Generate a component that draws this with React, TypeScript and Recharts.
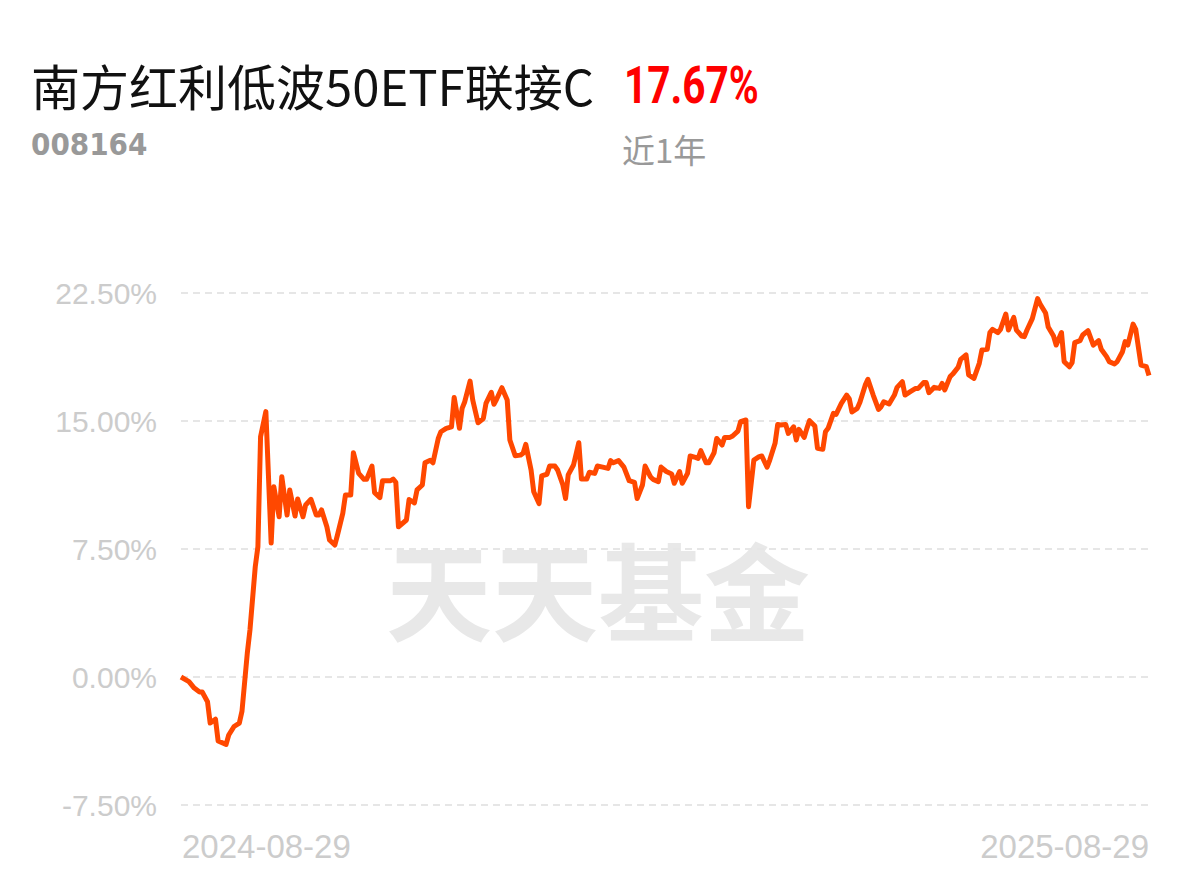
import { LineChart, Line, XAxis, YAxis, CartesianGrid } from 'recharts';

// day offset from 2024-08-29 and cumulative return (%)
const days = [
  0, 3, 5, 7, 8, 10, 11, 13, 14, 17, 18, 20, 22, 23, 25, 26, 28, 29, 30, 32,
  34, 35, 37, 38, 40, 41, 43, 44, 46, 47, 49, 51, 52, 53, 55, 56, 58, 59, 61, 62,
  64, 65, 67, 69, 70, 72, 73, 75, 76, 79, 80, 81, 82,
  85, 86, 88, 89, 91, 92, 94, 95, 97, 98, 100, 102, 103, 105, 106, 107, 109, 110,
  112, 114, 115, 117, 118, 119, 121, 123, 124, 126, 128, 129, 130, 132, 133, 135,
  136, 138, 139, 141, 142, 144, 145, 146, 148, 150, 151, 153, 154, 156, 157, 159,
  161, 162, 163, 165, 167, 169, 171, 172,
  174, 175, 177, 178, 180, 181, 183, 185, 186, 188, 189, 191, 192, 194, 195, 196,
  198, 199, 201, 202, 204, 205, 207, 208, 210, 211, 213, 214, 216, 218, 219, 221,
  222, 224, 225, 226, 228, 229, 231, 232, 233, 235, 236, 237, 239, 240, 242, 243,
  244, 246, 247, 249, 251, 252, 253, 255,
  256, 258, 259, 261, 263, 264, 265, 267, 269, 270, 272, 273, 275, 277, 278, 280,
  281, 282, 284, 286, 287, 288, 290, 291, 293, 294, 296, 297, 299, 301, 302, 304,
  305, 306, 308, 309, 311, 312, 314, 315, 317, 318, 319, 321, 323, 324, 326, 327,
  329, 330, 332, 333, 335, 336, 337, 339, 340, 342, 344, 346, 347, 349, 350, 352,
  353, 355, 356, 357, 359, 360, 362, 364, 365,
];

const returns = [
  0, -0.27, -0.65, -0.88, -0.88, -1.45, -2.7, -2.47, -3.75, -3.95, -3.4, -2.9, -2.7, -2.0, 1.4, 2.75, 6.46, 7.64, 14.08, 15.55,
  7.85, 11.15, 9.39, 11.74, 9.49, 10.96, 9.43, 10.43, 9.39, 10.08, 10.41, 9.49, 9.49, 9.79, 8.8, 8.03, 7.73, 8.32, 9.59, 10.66,
  10.66, 13.14, 11.93, 11.58, 11.58, 12.36, 10.8, 10.51, 11.5, 11.5, 11.6, 11.41, 8.8,
  9.2, 10.4, 10.2, 10.96, 11.25, 12.55, 12.7, 12.55, 13.98, 14.37, 14.57, 14.66, 16.38, 14.57, 15.74, 16.13, 17.34, 16.23,
  14.9, 15.15, 16.03, 16.68, 15.98, 16.27, 16.95, 16.23, 13.89, 12.97, 13.0, 13.11, 13.63, 12.13, 10.86, 10.16,
  11.78, 11.88, 12.36, 12.36, 12.13, 11.25, 10.46, 11.84, 12.42, 13.73, 11.6, 11.6, 12.0, 11.93, 12.36, 12.3,
  12.22, 12.68, 12.55, 12.68, 12.3, 11.5, 11.4, 10.46,
  11.25, 12.36, 11.74, 11.58, 11.45, 12.3, 12.04, 11.9, 11.35, 12.04, 11.35, 11.93, 12.95, 12.87, 12.81, 13.26,
  12.55, 12.55, 13.14, 13.98, 13.59, 14.04, 14.04, 14.12, 14.41, 14.96, 15.06, 9.98, 12.71, 12.91, 12.95, 12.29,
  12.71, 13.69, 14.8, 14.77, 14.8, 14.27, 14.66, 13.89, 14.51, 14.04, 14.57, 15.02, 14.71, 13.4, 13.34, 14.37,
  14.57, 15.45, 15.39, 16.03, 16.52, 16.29, 15.53, 15.74,
  16.1, 17.1, 17.44, 16.52, 15.68, 15.84, 16.13, 16.0, 16.52, 16.97, 17.3, 16.52, 16.72, 16.91, 16.91, 17.25,
  17.25, 16.66, 16.97, 16.91, 17.2, 16.82, 17.6, 17.75, 18.14, 18.61, 18.87, 17.7, 17.5, 18.38, 19.16, 19.2,
  20.18, 20.37, 20.18, 20.37, 21.27, 20.33, 21.07, 20.33, 19.98, 19.94, 20.33, 21.0, 22.17, 21.84, 21.33, 20.51,
  19.98, 19.45, 20.18, 18.48, 18.18, 18.42, 19.59, 19.71, 20.04, 20.29, 19.45, 19.71, 19.2, 18.77, 18.48, 18.34,
  18.48, 19.06, 19.65, 19.45, 20.68, 20.37, 18.28, 18.18, 17.67,
];

const yTicks = [-7.5, 0, 7.5, 15, 22.5];
const xTicks = [0, 365];
const xLabels = ['2024-08-29', '2025-08-29'];

const data = days.map((d, i) => ({ day: d, value: returns[i] }));

const XTick = (props: any) => {
  const { x, y, payload, index } = props;
  return (
    <text
      x={index === 0 ? x + 1 : x}
      y={y}
      dy={45}
      textAnchor={index === 0 ? 'start' : 'end'}
      fill="#cccccc"
      fontSize={33}
      fontFamily="Liberation Sans, Arial, sans-serif"
    >
      {xLabels[xTicks.indexOf(payload.value)]}
    </text>
  );
};

export default function App() {
  return (
    <div
      style={{
        position: 'relative',
        width: 1194,
        height: 881,
        margin: -8,
        background: '#fff',
        overflow: 'hidden',
        fontFamily: '"Noto Sans CJK SC", sans-serif',
      }}
    >
      <div style={{ position: 'absolute', left: 31, top: 50, fontSize: 49, color: '#111', lineHeight: '70px', whiteSpace: 'nowrap' }}>
        南方红利低波50ETF联接C
      </div>
      <div
        style={{
          position: 'absolute',
          left: 624,
          top: 56,
          fontSize: 52,
          fontWeight: 'bold',
          color: '#ff0000',
          fontFamily: 'Roboto, sans-serif',
          lineHeight: '60px',
          transform: 'scaleX(0.78)',
          transformOrigin: 'left center',
          whiteSpace: 'nowrap',
        }}
      >
        17.67%
      </div>
      <div
        style={{
          position: 'absolute',
          left: 31,
          top: 124,
          fontSize: 31,
          fontWeight: 'bold',
          color: '#999',
          fontFamily: '"DejaVu Sans Condensed", sans-serif',
          lineHeight: '40px',
        }}
      >
        008164
      </div>
      <div style={{ position: 'absolute', left: 622, top: 126, fontSize: 33, color: '#999', lineHeight: '46px' }}>
        近1年
      </div>
      <div
        style={{
          position: 'absolute',
          left: 386,
          top: 522,
          fontSize: 106,
          fontWeight: 'bold',
          color: '#e8e8e8',
          lineHeight: '130px',
          whiteSpace: 'nowrap',
        }}
      >
        天天基金
      </div>
      <div style={{ position: 'absolute', left: 0, top: 0 }}>
        <LineChart width={1194} height={881} data={data} margin={{ top: 293, right: 45, bottom: 36, left: 0 }}>
          <CartesianGrid vertical={false} stroke="#e6e6e6" strokeWidth={2} strokeDasharray="7 5" />
          <XAxis
            dataKey="day"
            type="number"
            domain={[0, 365]}
            ticks={xTicks}
            axisLine={false}
            tickLine={false}
            height={40}
            interval={0}
            tick={<XTick />}
          />
          <YAxis
            type="number"
            domain={[-7.5, 22.5]}
            ticks={yTicks}
            width={181}
            axisLine={false}
            tickLine={false}
            tickSize={0}
            tickMargin={24}
            tick={{ fontSize: 30, fill: '#cccccc', fontFamily: 'Liberation Sans, Arial, sans-serif' }}
            tickFormatter={(v: number) => v.toFixed(2) + '%'}
          />
          <Line
            type="linear"
            dataKey="value"
            stroke="#ff4800"
            strokeWidth={5}
            strokeLinejoin="round"
            dot={false}
            activeDot={false}
            isAnimationActive={false}
          />
        </LineChart>
      </div>
    </div>
  );
}
